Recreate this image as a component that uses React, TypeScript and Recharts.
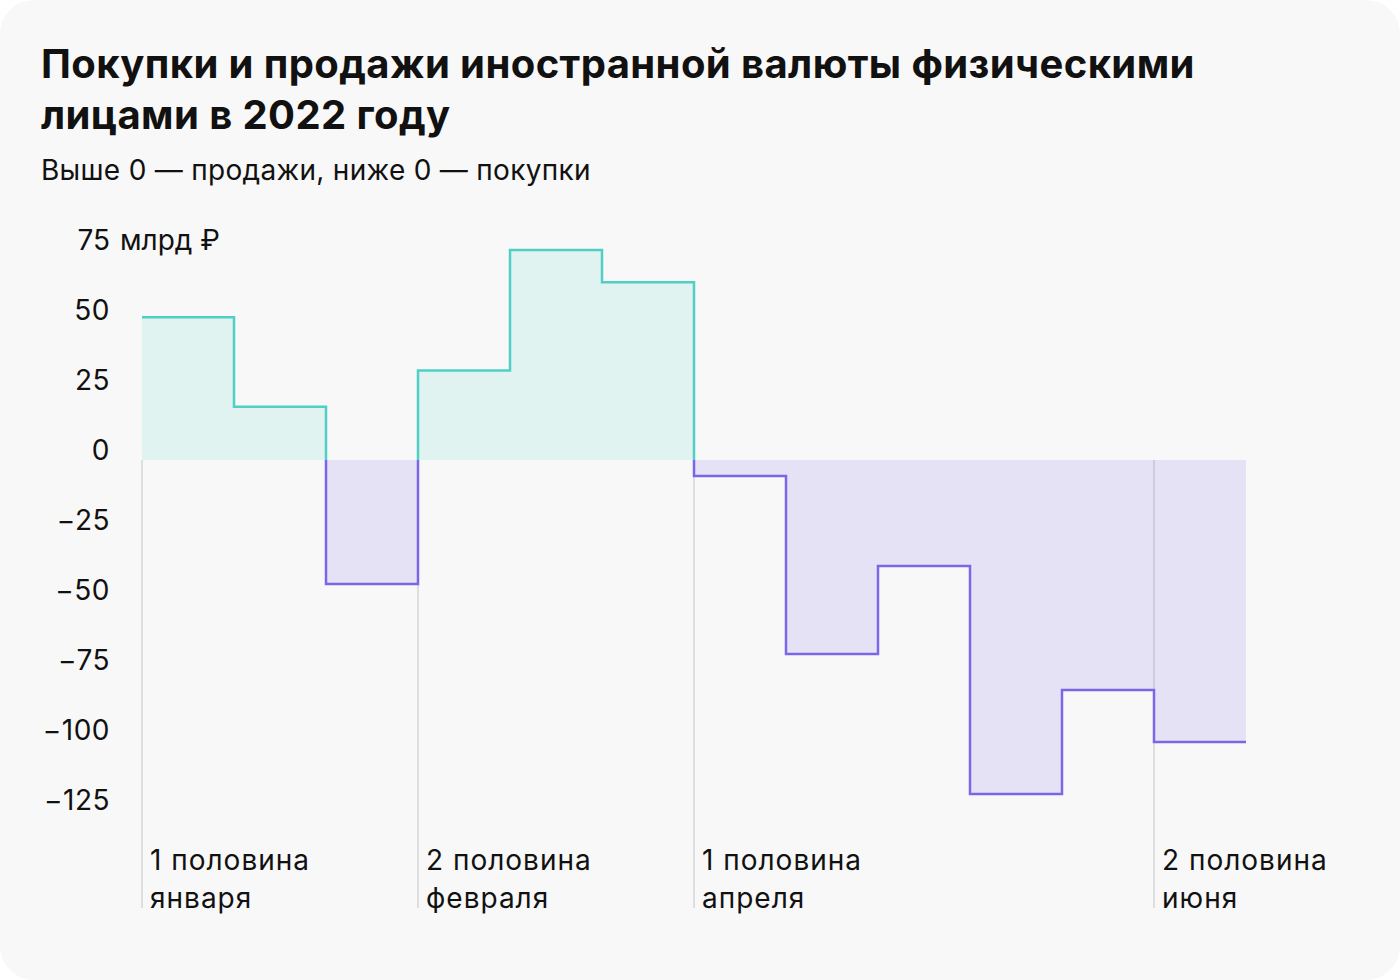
import { ComposedChart, Area, Line, XAxis, YAxis, ReferenceLine } from 'recharts';

// half-month periods of 2022
const periods = [
  '1 половина января', '2 половина января',
  '1 половина февраля', '2 половина февраля',
  '1 половина марта', '2 половина марта',
  '1 половина апреля', '2 половина апреля',
  '1 половина мая', '2 половина мая',
  '1 половина июня', '2 половина июня',
];

// net flow, bn rub: above 0 = sales, below 0 = purchases
const flows = [51, 19, -44.3, 32, 75, 63.5, -5.7, -69.3, -37.9, -119.3, -82.1, -100.7];

const labelledPeriods = [0, 3, 6, 11];
const yTicks = [-125, -100, -75, -50, -25, 0, 25, 50, 75];
const yMin = -160;

const TEAL = '#4fcfc5';
const TEAL_FILL = '#e0f3f0';
const PURPLE = '#7b66e8';
const PURPLE_FILL = '#e6e2f6';

type Row = { x: number; pos: number; neg: number; up: number | null; down: number | null };

// step outline as duplicated x points, with a zero row where the sign flips
const rows: Row[] = [];
flows.forEach((v, i) => {
  if (i > 0 && Math.sign(flows[i - 1]) !== Math.sign(v)) {
    rows.push({ x: i, pos: 0, neg: 0, up: 0, down: 0 });
  }
  const r = { pos: Math.max(v, 0), neg: Math.min(v, 0), up: v > 0 ? v : null, down: v < 0 ? v : null };
  rows.push({ x: i, ...r });
  rows.push({ x: i + 1, ...r });
});

const fmt = (v: number) => (v < 0 ? '\u2212' + Math.abs(v) : String(v));

const YTick = (props: any) => {
  const { x, y, payload } = props;
  const tx = x - 32;
  if (payload.value === 75) {
    return (
      <g>
        <text x={tx} y={y} textAnchor="end" fontSize={28} fill="#111">75</text>
        <text x={tx + 10} y={y} textAnchor="start" fontSize={28} fill="#111">млрд ₽</text>
      </g>
    );
  }
  return (
    <text x={tx} y={y} textAnchor="end" fontSize={28} fill="#111" letterSpacing={0.5}>{fmt(payload.value)}</text>
  );
};

const XTick = (props: any) => {
  const { x, y, payload } = props;
  const label = periods[payload.value] || '';
  const cut = label.lastIndexOf(' ');
  return (
    <g>
      <text x={x + 8} y={y - 38} fontSize={28} fill="#111" letterSpacing={1}>{label.slice(0, cut)}</text>
      <text x={x + 8} y={y} fontSize={28} fill="#111" letterSpacing={1}>{label.slice(cut + 1)}</text>
    </g>
  );
};

export default function App() {
  return (
    <div style={{ position: 'relative', width: 1400, height: 980, background: '#fff', fontFamily: 'Inter, sans-serif', color: '#111' }}>
      <style>{'body{margin:0}'}</style>
      <div style={{ position: 'absolute', inset: 0, background: '#f8f8f8', borderRadius: 34 }} />
      <div style={{ position: 'absolute', left: 41, top: 38, fontSize: 40, fontWeight: 700, lineHeight: '51px', width: 1260, letterSpacing: 0.4 }}>
        Покупки и продажи иностранной валюты физическими лицами в 2022 году
      </div>
      <div style={{ position: 'absolute', left: 41, top: 152, fontSize: 28, lineHeight: '36px', letterSpacing: 0.3 }}>
        Выше 0 — продажи, ниже 0 — покупки
      </div>
      <div style={{ position: 'absolute', left: 0, top: 0 }}>
        <ComposedChart width={1400} height={980} data={rows} margin={{ top: 250, right: 154, bottom: 2, left: 0 }}>
          <XAxis
            dataKey="x"
            type="number"
            domain={[0, 12]}
            ticks={labelledPeriods}
            axisLine={false}
            tickLine={false}
            tickSize={0}
            tickMargin={0}
            height={70}
            tick={<XTick />}
            interval={0}
          />
          <YAxis
            type="number"
            domain={[yMin, 75]}
            ticks={yTicks}
            axisLine={false}
            tickLine={false}
            tickSize={0}
            tickMargin={0}
            width={142}
            tick={<YTick />}
            interval={0}
          />
          <Area type="linear" dataKey="pos" baseValue={0} stroke="none" fill={TEAL_FILL} fillOpacity={1} isAnimationActive={false} />
          <Area type="linear" dataKey="neg" baseValue={0} stroke="none" fill={PURPLE_FILL} fillOpacity={1} isAnimationActive={false} />
          {labelledPeriods.map((p) => (
            <ReferenceLine
              key={p}
              segment={[{ x: p, y: 0 }, { x: p, y: yMin }]}
              stroke="rgba(0,0,0,0.1)"
              strokeWidth={2}
            />
          ))}
          <Line type="linear" dataKey="up" stroke={TEAL} strokeWidth={2.5} dot={false} connectNulls={false} isAnimationActive={false} />
          <Line type="linear" dataKey="down" stroke={PURPLE} strokeWidth={2.5} dot={false} connectNulls={false} isAnimationActive={false} />
        </ComposedChart>
      </div>
    </div>
  );
}
